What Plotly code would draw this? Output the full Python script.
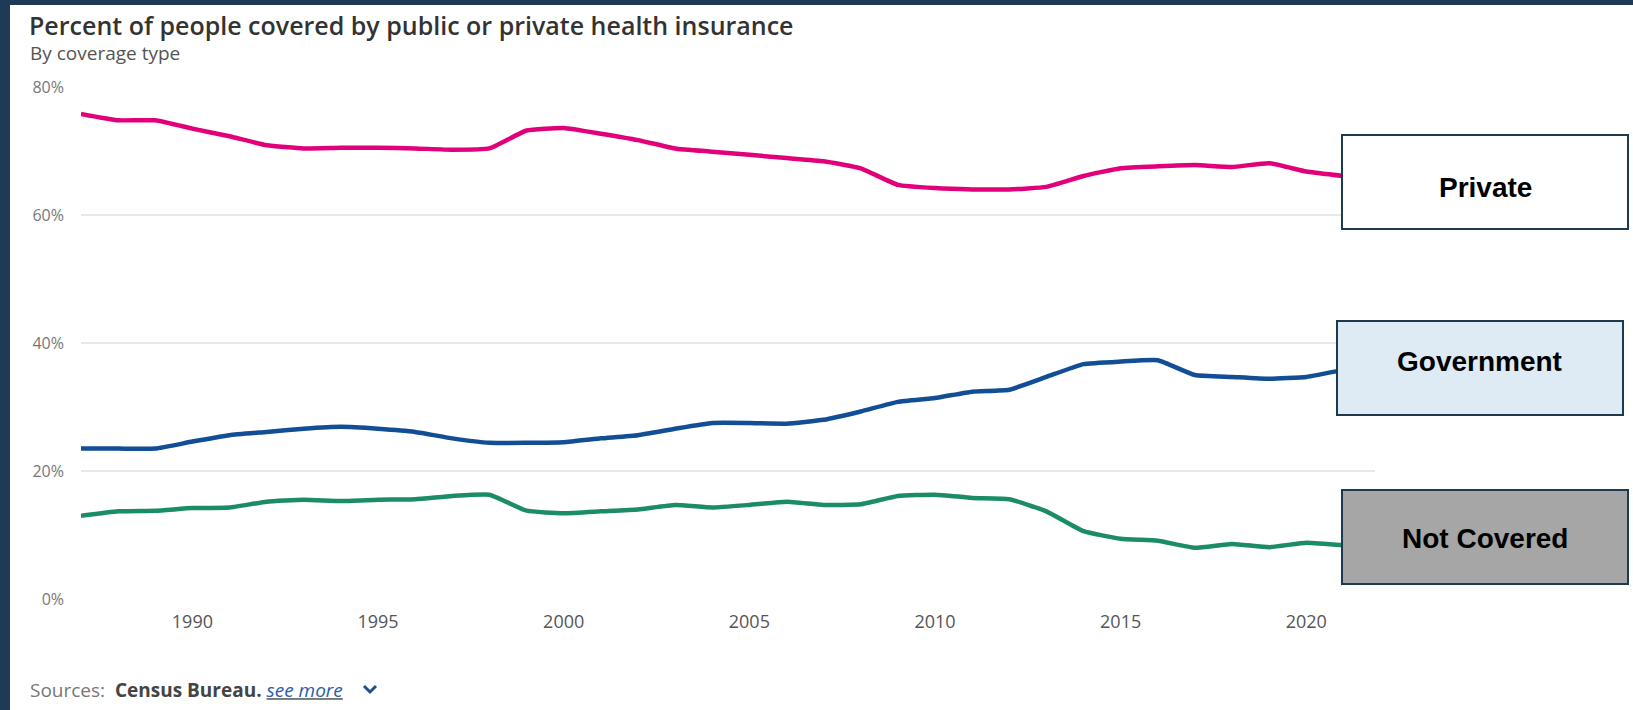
import plotly.graph_objects as go

years = list(range(1987, 2022))
private = [75.8, 74.8, 74.8, 73.5, 72.3, 70.9, 70.4, 70.5, 70.5, 70.4, 70.2, 70.4,
           73.2, 73.6, 72.7, 71.7, 70.4, 69.9, 69.4, 68.9, 68.4, 67.3, 64.7, 64.2,
           64.0, 64.0, 64.4, 66.1, 67.3, 67.6, 67.8, 67.5, 68.1, 66.8, 66.1]
government = [23.5, 23.5, 23.5, 24.6, 25.6, 26.1, 26.6, 26.9, 26.6, 26.1, 25.1, 24.4,
              24.4, 24.5, 25.1, 25.6, 26.6, 27.5, 27.5, 27.4, 28.0, 29.3, 30.8, 31.4,
              32.4, 32.7, 34.7, 36.7, 37.1, 37.3, 35.0, 34.7, 34.4, 34.7, 35.8]
not_covered = [13.0, 13.7, 13.8, 14.2, 14.3, 15.2, 15.5, 15.3, 15.5, 15.6, 16.1, 16.3,
               13.8, 13.4, 13.7, 14.0, 14.7, 14.3, 14.7, 15.2, 14.7, 14.8, 16.1, 16.3,
               15.8, 15.6, 13.7, 10.6, 9.4, 9.1, 8.0, 8.6, 8.1, 8.8, 8.4]

y_ticks = [0, 20, 40, 60, 80]
y_ticklabels = ["0%", "20%", "40%", "60%", "80%"]
x_ticks = [1990, 1995, 2000, 2005, 2010, 2015, 2020]

series = [
    ("Private", private, "#E2007A"),
    ("Government", government, "#124E96"),
    ("Not Covered", not_covered, "#1B8C66"),
]

W, H = 1633, 710
ML, MR, MT, MB = 81, 258, 87, 111
PW = W - ML - MR
PH = H - MT - MB


def px(x):
    return (x - ML) / PW


def py(y):
    return (H - MB - y) / PH


fig = go.Figure()
for name, vals, col in series:
    fig.add_trace(go.Scatter(
        x=years, y=vals, mode="lines", name=name,
        line=dict(color=col, width=4.5, shape="spline", smoothing=0.4),
        hoverinfo="x+y",
    ))

FONT = "Open Sans"
shapes = []
annotations = []

# frame strips
shapes.append(dict(type="rect", xref="paper", yref="paper",
                   x0=px(0), x1=px(10), y0=py(H), y1=py(0),
                   fillcolor="#1E3A57", line=dict(width=0), layer="above"))
shapes.append(dict(type="rect", xref="paper", yref="paper",
                   x0=px(0), x1=px(W), y0=py(5), y1=py(0),
                   fillcolor="#1E3A57", line=dict(width=0), layer="above"))

# label boxes
boxes = [
    ("Private", 1342, 1628, 135, 229, "#FFFFFF", 187),
    ("Government", 1337, 1623, 321, 415, "#DEEAF4", 361),
    ("Not Covered", 1342, 1628, 490, 584, "#A6A6A6", 538),
]
for text, x0, x1, y0, y1, fill, ty in boxes:
    shapes.append(dict(type="rect", xref="paper", yref="paper",
                       x0=px(x0), x1=px(x1), y0=py(y1), y1=py(y0),
                       fillcolor=fill, line=dict(color="#1E3A50", width=2),
                       layer="above"))
    annotations.append(dict(xref="paper", yref="paper", x=px((x0 + x1) / 2), y=py(ty),
                            text="<b>" + text + "</b>", showarrow=False,
                            xanchor="center", yanchor="middle",
                            font=dict(family="Liberation Sans, Arial", size=28, color="#000000")))

# title / subtitle
annotations.append(dict(xref="paper", yref="paper", x=px(27), y=py(25),
                        text="Percent of people covered by public or private health insurance",
                        showarrow=False, xanchor="left", yanchor="middle",
                        font=dict(family=FONT, size=25, color="#333333", weight=600)))
annotations.append(dict(xref="paper", yref="paper", x=px(28), y=py(53),
                        text="By coverage type", showarrow=False,
                        xanchor="left", yanchor="middle",
                        font=dict(family=FONT, size=19, color="#555555")))

# sources
annotations.append(dict(xref="paper", yref="paper", x=px(28), y=py(690),
                        text="Sources:&nbsp; <b><span style='color:#444444'>Census Bureau.</span></b> "
                             "<i><u><span style='color:#2A5DA8'>see more</span></u></i>",
                        showarrow=False, xanchor="left", yanchor="middle",
                        font=dict(family=FONT, size=19, color="#777777")))
shapes.append(dict(type="path", xref="paper", yref="paper",
                   path="M {} {} L {} {} L {} {}".format(px(364), py(686), px(370), py(692),
                                                           px(376), py(686)),
                   line=dict(color="#1F4E8C", width=3)))

fig.update_layout(
    width=W, height=H,
    margin=dict(l=ML, r=MR, t=MT, b=MB, pad=0),
    paper_bgcolor="#FFFFFF", plot_bgcolor="#FFFFFF",
    showlegend=False,
    shapes=shapes, annotations=annotations,
    font=dict(family=FONT, color="#666666"),
    xaxis=dict(range=[1987, 2021.85], tickvals=x_ticks, showgrid=False, zeroline=False,
               showline=False, ticks="", tickfont=dict(size=18, color="#555555"),
               ticklabelstandoff=10, fixedrange=True),
    yaxis=dict(range=[0, 80], tickvals=y_ticks, ticktext=y_ticklabels, showgrid=True,
               gridcolor="#E8E8E8", gridwidth=1.5, zeroline=False, showline=False,
               ticks="", tickfont=dict(size=16, color="#777777"),
               ticklabelstandoff=16, fixedrange=True),
)

fig.write_html("out.html")
